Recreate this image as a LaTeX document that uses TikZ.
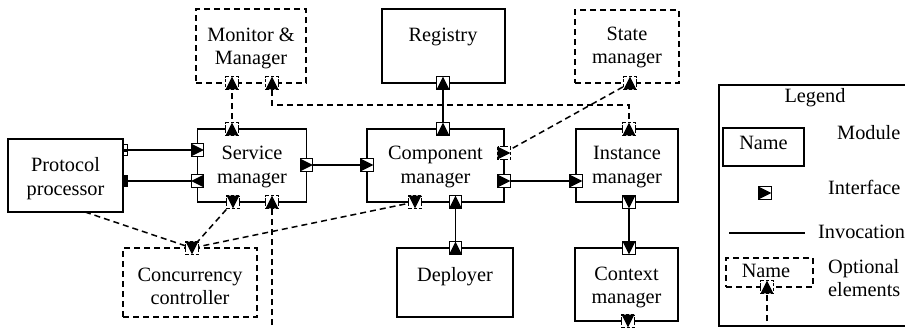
\documentclass[tikz,border=0pt]{standalone}
\usepackage{fontspec}
\setmainfont{Liberation Serif}
\newcommand\ifc[3]{%
  \begin{scope}[shift={(#1)}, rotate=#2]
    \draw[fill=white, line width=1.1pt, #3] (-6.3,-6.3) rectangle (6.3,6.3);
    \fill (-6.3,-6.3) -- (6.3,0) -- (-6.3,6.3) -- cycle;
  \end{scope}}
\begin{document}
\begin{tikzpicture}[x=1pt,y=-1pt,
  mod/.style={draw, rectangle, inner sep=0pt, line width=1.5pt},
  opt/.style={mod, dash pattern=on 6pt off 4pt},
  txt/.style={align=center, font=\fontsize{20.3}{23.5}\selectfont, inner sep=0pt},
  inv/.style={line width=1.5pt},
  oinv/.style={line width=1.5pt, dash pattern=on 6pt off 4pt},
  solidi/.style={},
  opti/.style={dash pattern=on 3pt off 2pt}]
\useasboundingbox (0,0) rectangle (905,327);
\clip (0,0) rectangle (905,327);

% modules
\node[mod, minimum width=115, minimum height=73] (pp) at (65.5,175.5) {};
\node[mod, minimum width=109, minimum height=73] (sm) at (252,165.5) {};
\node[mod, minimum width=137, minimum height=73] (cm) at (435.5,165.5) {};
\node[mod, minimum width=102, minimum height=73] (im) at (627,165.5) {};
\node[opt, minimum width=110, minimum height=74] (mm) at (251,46) {};
\node[mod, minimum width=123, minimum height=74] (rg) at (443.5,46) {};
\node[opt, minimum width=104, minimum height=73] (st) at (627,46.5) {};
\node[mod, minimum width=116, minimum height=69] (dp) at (455,282.5) {};
\node[mod, minimum width=103, minimum height=73] (cx) at (626.5,284.5) {};
\node[opt, minimum width=134, minimum height=69] (cc) at (190,282.5) {};
\node[mod, minimum width=201, minimum height=241] (lg) at (819.5,205.5) {};

% texts
\node[txt] (ppt) at (65.5,178.5) {Protocol\\processor};
\node[txt] (smt) at (252,167) {Service\\manager};
\node[txt] (cmt) at (435.5,167) {Component\\manager};
\node[txt] (imt) at (627,167) {Instance\\manager};
\node[txt] (mmt) at (251,48.5) {Monitor \&\\Manager};
\node[txt] (rgt) at (443,37) {Registry};
\node[txt] (stt) at (627,47.5) {State\\manager};
\node[txt] (dpt) at (455,277) {Deployer};
\node[txt] (cxt) at (626.5,287.5) {Context\\manager};
\node[txt] (cct) at (190,286.5) {Concurrency\\controller};

% interface positions
\coordinate (smL1) at (197.5,150);
\coordinate (smL2) at (197.5,181);
\coordinate (ppR1) at (125,150);
\coordinate (ppR2) at (125,181);
\coordinate (smR) at (306.5,165);
\coordinate (cmL) at (367,165);
\coordinate (cmR2) at (504,181);
\coordinate (imL) at (576,181);
\coordinate (cmR1) at (504,153);
\coordinate (stB) at (630,83);
\coordinate (rgB) at (443,83);
\coordinate (cmT) at (443,129);
\coordinate (mmB1) at (232,83);
\coordinate (smT) at (232,129);
\coordinate (mmB2) at (272,83);
\coordinate (imT) at (629,129);
\coordinate (smB1) at (233,202);
\coordinate (smB2) at (272,202);
\coordinate (ccT) at (192,248);
\coordinate (cmB1) at (415,202);
\coordinate (cmB2) at (455.5,202);
\coordinate (dpT) at (455.5,248);
\coordinate (imB) at (629,202);
\coordinate (cxT) at (629,248);
\coordinate (cxB) at (628,321);
\coordinate (ppB) at (85,212);
\coordinate (smEnd) at (272,335);

% connectors
\draw[inv] (ppR1) -- (smL1);
\draw[inv] (ppR2) -- (smL2);
\draw[inv] (smR) -- (cmL);
\draw[inv] (cmR2) -- (imL);
\draw[inv] (rgB) -- (cmT);
\draw[inv] (cmB2) -- (dpT);
\draw[inv] (imB) -- (cxT);
\draw[oinv] (cmR1) -- (stB);
\draw[oinv] (smT) -- (mmB1);
\draw[oinv] (imT) |- ++(-357,-24) -- (mmB2);
\draw[oinv] (smB1) -- (ccT);
\draw[oinv] (ppB) -- (ccT);
\draw[oinv] (cmB1) -- (ccT);
\draw[oinv] (smEnd) -- (smB2);

% protocol processor side markers
\draw[line width=0.8pt, fill=white] (123,144.5) rectangle (127.5,155.5);
\fill (123,148.5) rectangle (127.5,151.5);
\fill (122.5,175) rectangle (128,187);

% interfaces
\ifc{smL1}{0}{solidi}
\ifc{smL2}{180}{solidi}
\ifc{smR}{0}{solidi}
\ifc{cmL}{0}{solidi}
\ifc{cmR2}{0}{solidi}
\ifc{imL}{0}{solidi}
\ifc{rgB}{90}{solidi}
\ifc{cmT}{90}{solidi}
\ifc{cmB2}{90}{solidi}
\ifc{dpT}{90}{solidi}
\ifc{imB}{270}{solidi}
\ifc{cxT}{270}{solidi}
\ifc{cmR1}{0}{opti}
\ifc{stB}{90}{opti}
\ifc{mmB1}{90}{opti}
\ifc{smT}{90}{opti}
\ifc{mmB2}{90}{opti}
\ifc{imT}{90}{opti}
\ifc{smB1}{270}{opti}
\ifc{smB2}{90}{opti}
\ifc{ccT}{270}{opti}
\ifc{cmB1}{270}{opti}
\ifc{cxB}{270}{opti}

% legend
\node[txt] (lgt) at (815,98) {Legend};
\node[mod, minimum width=81, minimum height=38] (lname) at (763.5,147) {};
\node[txt] (lnamet) at (763.5,143) {Name};
\node[txt, anchor=west] (lmod) at (837,133) {Module};
\coordinate (lif) at (765,193);
\ifc{lif}{0}{solidi}
\node[txt, anchor=west] (lift) at (828,187) {Interface};
\coordinate (lil) at (729,233);
\coordinate (lir) at (805,233);
\draw[inv] (lil) -- (lir);
\node[txt, anchor=west] (linv) at (818,232) {Invocation};
\node[opt, minimum width=87, minimum height=29] (lopt) at (769.5,272.5) {};
\node[txt] (lopttext) at (766,270.5) {Name};
\coordinate (loif) at (767,287);
\coordinate (loend) at (767,321);
\draw[oinv] (loend) -- (loif);
\ifc{loif}{90}{opti}
\node[txt, anchor=west, align=left] (lopte) at (828,278) {Optional\\elements};
\end{tikzpicture}
\end{document}
